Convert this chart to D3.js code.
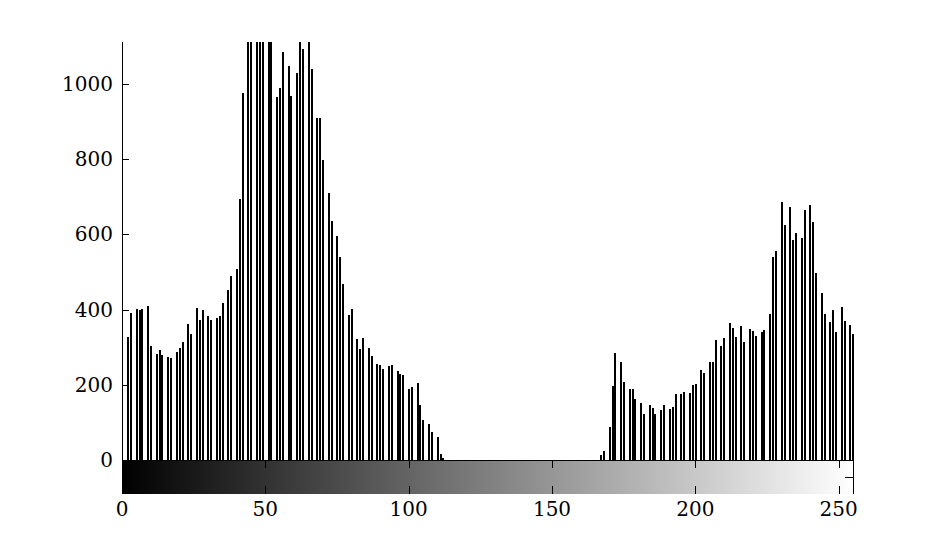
<!DOCTYPE html>
<html><head><meta charset="utf-8">
<script src="https://cdn.jsdelivr.net/npm/d3@7"></script>
<style>html,body{margin:0;padding:0;background:#fff;}svg{display:block;}</style>
</head><body>
<script>
// Gray levels with non-zero counts, and their counts
const bins = [2,3,5,6,7,9,10,12,13,14,16,17,19,20,21,23,24,26,27,28,30,31,33,34,35,37,38,40,41,42,44,45,47,48,49,51,52,54,55,56,58,59,61,62,63,65,66,68,69,70,72,73,75,76,77,79,80,82,83,84,86,87,89,90,91,93,94,96,97,98,100,101,103,104,105,107,108,110,111,112,
167,168,170,171,172,174,175,177,178,179,181,182,184,185,186,188,189,191,192,193,195,196,198,199,200,202,203,205,206,207,209,210,212,213,214,216,217,219,220,221,223,224,226,227,228,230,231,233,234,235,237,238,240,241,242,244,245,247,248,249,251,252,254,255];
const counts = [328,390,401,400,401,410,303,282,293,279,273,272,288,298,315,362,336,404,372,399,383,372,377,383,417,452,489,507,693,976,1250,1380,1420,1310,1290,1200,1180,965,989,1085,1048,968,1029,1150,1093,1130,1040,910,910,798,709,635,597,539,468,385,401,322,295,324,298,277,256,253,242,250,253,237,229,226,189,195,205,147,107,97,75,60,17,4,
12,25,89,197,285,261,208,189,189,163,152,123,147,139,123,134,147,136,142,176,176,181,179,200,203,240,232,261,261,319,303,324,364,351,327,356,314,348,343,330,340,346,388,539,555,687,626,674,584,603,590,666,677,632,497,444,388,367,399,340,407,370,359,335];
const xTicks = [0,50,100,150,200,250];
const yTicks = [0,200,400,600,800,1000];
const xDomain = [0,255];
const yMax = 1111.7;

(function(){
const W = 942, H = 555;
const pL = 122, pR = 853, pT = 42, base = 460, cbBottom = 494;
const svg = d3.select("body").append("svg").attr("width",W).attr("height",H);
const x = d3.scaleLinear().domain(xDomain).range([pL,pR]);
const y = d3.scaleLinear().domain([0,yMax]).range([base,pT]);
const font = "'DejaVu Serif', serif";

const defs = svg.append("defs");
defs.append("clipPath").attr("id","plotclip").append("rect")
  .attr("x",pL).attr("y",pT).attr("width",pR-pL+2).attr("height",base-pT);
const grad = defs.append("linearGradient").attr("id","gray").attr("x1","0%").attr("x2","100%");
grad.append("stop").attr("offset","0%").attr("stop-color","#000");
grad.append("stop").attr("offset","100%").attr("stop-color","#fff");

// bars (stems)
svg.append("g").attr("clip-path","url(#plotclip)").attr("shape-rendering","crispEdges")
  .selectAll("rect").data(bins).join("rect")
  .attr("x",(d)=>Math.round(x(d)+0.3)-1).attr("width",2)
  .attr("y",(d,i)=>Math.round(y(counts[i]))).attr("height",(d,i)=>base-Math.round(y(counts[i])))
  .attr("fill","#000");

// colorbar
svg.append("rect").attr("x",pL).attr("y",base).attr("width",pR-pL).attr("height",cbBottom-base)
  .attr("fill","url(#gray)");
const cbTicks = svg.append("g").attr("shape-rendering","crispEdges");
xTicks.forEach(t=>{
  const tx = Math.round(x(t))+0.5;
  cbTicks.append("line").attr("x1",tx).attr("x2",tx).attr("y1",base).attr("y2",base+8).attr("stroke","#000");
  cbTicks.append("line").attr("x1",tx).attr("x2",tx).attr("y1",cbBottom-8).attr("y2",cbBottom).attr("stroke","#000");
});
const cbMid = Math.round((base+cbBottom)/2)+0.5;
svg.append("line").attr("x1",pR-8).attr("x2",pR).attr("y1",cbMid).attr("y2",cbMid).attr("stroke","#000");
svg.append("line").attr("x1",pL).attr("x2",pL+8).attr("y1",cbMid).attr("y2",cbMid).attr("stroke","#000");
svg.append("line").attr("x1",pR+0.5).attr("x2",pR+0.5).attr("y1",base).attr("y2",cbBottom).attr("stroke","#000");

// x tick labels
svg.append("g").selectAll("text").data(xTicks).join("text")
  .attr("x",d=>x(d)).attr("y",516).attr("text-anchor","middle")
  .attr("font-family",font).attr("font-size",20).attr("fill","#000").text(d=>d);

// y axis
const ya = svg.append("g");
ya.append("line").attr("x1",pL+0.5).attr("x2",pL+0.5).attr("y1",pT).attr("y2",base+1).attr("stroke","#000");
ya.selectAll("line.t").data(yTicks).join("line").attr("class","t")
  .attr("x1",pL).attr("x2",pL+7).attr("y1",d=>Math.round(y(d))+0.5).attr("y2",d=>Math.round(y(d))+0.5).attr("stroke","#000");
ya.selectAll("text").data(yTicks).join("text")
  .attr("x",pL-9).attr("y",d=>y(d)+7).attr("text-anchor","end")
  .attr("font-family",font).attr("font-size",20).attr("fill","#000").text(d=>d);

// x axis line (top of colorbar)
svg.append("line").attr("x1",pL).attr("x2",pR+1).attr("y1",base+0.5).attr("y2",base+0.5).attr("stroke","#000");
})();
</script>
</body></html>
